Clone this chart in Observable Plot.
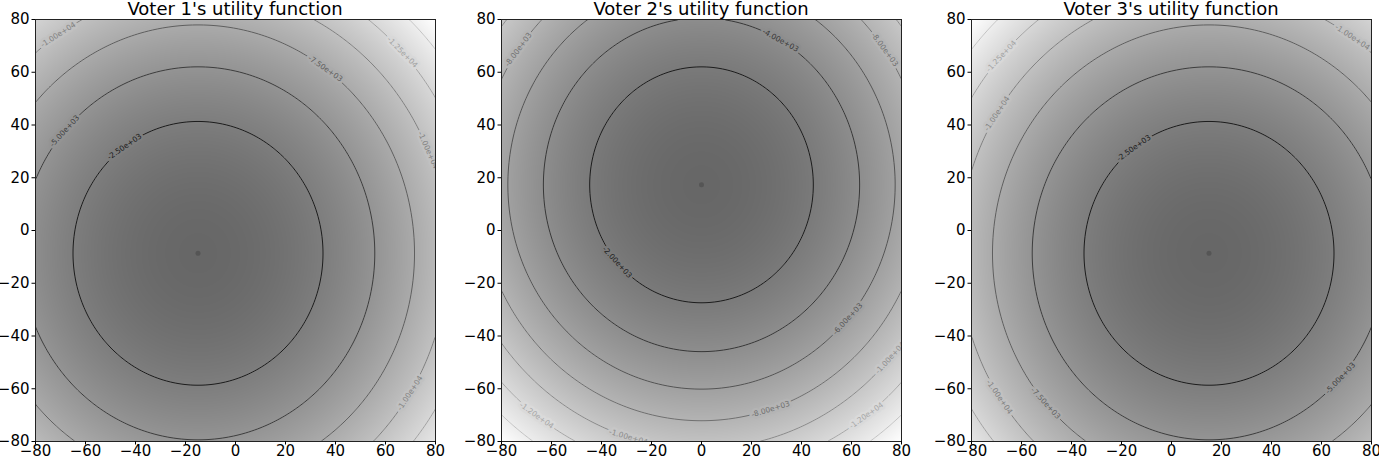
<!DOCTYPE html>
<html>
<head>
<meta charset="utf-8">
<script src="https://cdn.jsdelivr.net/npm/d3@7"></script>
<script src="https://cdn.jsdelivr.net/npm/@observablehq/plot@0.6"></script>
<style>
  html, body { margin: 0; padding: 0; background: #fff; overflow: hidden; }
  #fig { position: relative; width: 1379px; height: 459px; font-family: "DejaVu Sans", sans-serif; overflow: visible; }
  .panel { position: absolute; top: 0; }
  .panel svg { max-width: none !important; display: block; }
  .title { position: absolute; top: 0px; font-size: 18px; line-height: 18px; white-space: nowrap; transform: translateX(-50%); color: #000; }
</style>
</head>
<body>
<div id="fig"></div>
<script>
// ---- data ----
const titles = ["Voter 1's utility function", "Voter 2's utility function", "Voter 3's utility function"];
const idealX = [-15, 0, 15];
const idealY = [-8.66, 17.32, -8.66];
const ticks = [-80, -60, -40, -20, 0, 20, 40, 60, 80];
const levels1 = [-2500, -5000, -7500, -10000, -12500, -15000];
const levels2 = [-2000, -4000, -6000, -8000, -10000, -12000, -14000];
const levels3 = [-2500, -5000, -7500, -10000, -12500, -15000];
const levelSets = [levels1, levels2, levels3];
// contour label placements: level and angle (degrees) around the ideal point
const labelLevels1 = [-2500, -5000, -7500, -10000, -10000, -10000, -12500];
const labelAngles1 = [126, 139, 54, 124, 23, -32, 43];
const labelText1 = ["-2.50e+03", "-5.00e+03", "-7.50e+03", "-1.00e+04", "-1.00e+04", "-1.00e+04", "-1.25e+04"];
const labelLevels2 = [-2000, -4000, -6000, -8000, -8000, -8000, -10000, -10000, -12000, -12000];
const labelAngles2 = [-139, 60, -41, 145, 35, -72, -107, -41, -127, -53];
const labelText2 = ["-2.00e+03", "-4.00e+03", "-6.00e+03", "-8.00e+03", "-8.00e+03", "-8.00e+03", "-1.00e+04", "-1.00e+04", "-1.20e+04", "-1.20e+04"];
const labelLevels3 = [-2500, -5000, -7500, -10000, -10000, -10000, -12500];
const labelAngles3 = [127, -42, -139, 148, 55, -147, 138];
const labelText3 = ["-2.50e+03", "-5.00e+03", "-7.50e+03", "-1.00e+04", "-1.00e+04", "-1.00e+04", "-1.25e+04"];
const labelSets = [
  [labelLevels1, labelAngles1, labelText1],
  [labelLevels2, labelAngles2, labelText2],
  [labelLevels3, labelAngles3, labelText3]
];

// ---- layout ----
const plotW = 400, plotH = 422;
const mL = 35, mT = 19, mB = 18, mR = 15;
const panelLeft = [0, 466, 936];
const kx = plotW / 160, ky = plotH / 160;

const fmt = d => d < 0 ? "\u2212" + (-d) : String(d);
const bgDark = "#676767";

const fig = document.getElementById("fig");

for (let i = 0; i < 3; i++) {
  const cx = idealX[i], cy = idealY[i];
  const u = (x, y) => -((x - cx) ** 2 + (y - cy) ** 2);
  const corners = [[-80, -80], [-80, 80], [80, -80], [80, 80]];
  const umin = d3.min(corners, ([x, y]) => u(x, y));
  const bg = d3.scaleLinear().domain([umin, 0]).range(["#ffffff", bgDark]).interpolate(d3.interpolateRgb);
  const levels = levelSets[i];
  const n = levels.length;
  const lineColor = k => { const g = Math.round(28 + k * (195 - 28) / (n - 1)); return `rgb(${g},${g},${g})`; };

  const contourMarks = levels.map((lv, k) => Plot.contour({
    value: u, x1: -80, x2: 80, y1: -80, y2: 80, pixelSize: 1,
    thresholds: [lv], fill: "none", stroke: lineColor(k), strokeWidth: 1
  }));

  const [lLev, lAng, lTxt] = labelSets[i];
  const labelMarks = lLev.map((lv, j) => {
    const r = Math.sqrt(-lv);
    const th = lAng[j] * Math.PI / 180;
    const lx = cx + r * Math.cos(th), ly = cy + r * Math.sin(th);
    let rot = Math.atan2(Math.cos(th) * kx, Math.sin(th) * ky) * 180 / Math.PI;
    if (rot > 90) rot -= 180;
    if (rot <= -90) rot += 180;
    const k = levels.indexOf(lv);
    return Plot.text([{x: lx, y: ly, t: lTxt[j]}], {
      x: "x", y: "y", text: "t", rotate: rot, clip: true,
      fontSize: 7.5, fontFamily: "DejaVu Sans",
      fill: lineColor(k), stroke: bg(u(lx, ly)), strokeWidth: 5
    });
  });

  const chart = Plot.plot({
    width: mL + plotW + mR,
    height: mT + plotH + mB,
    marginLeft: mL, marginTop: mT, marginBottom: mB, marginRight: mR,
    x: {domain: [-80, 80], label: null},
    y: {domain: [-80, 80], label: null},
    color: {type: "linear", domain: [umin, 0], range: ["#ffffff", bgDark], interpolate: "rgb"},
    style: {fontFamily: "DejaVu Sans", fontSize: "15px", color: "#000", background: "transparent", overflow: "visible", maxWidth: "none"},
    marks: [
      Plot.raster({fill: u, x1: -80, x2: 80, y1: -80, y2: 80, pixelSize: 1}),
      ...contourMarks,
      ...labelMarks,
      Plot.dot([0], {x: () => idealX[i], y: () => idealY[i], r: 2.5, fill: "#555", stroke: "none"}),
      Plot.frame({stroke: "#222", strokeWidth: 1}),
      Plot.axisX({ticks, tickFormat: fmt, tickSize: 3.5, tickPadding: 0, label: null, fontSize: 15, stroke: "#000"}),
      Plot.axisY({ticks, tickFormat: fmt, tickSize: 3.5, tickPadding: 2.5, label: null, fontSize: 15, stroke: "#000"})
    ]
  });

  const div = document.createElement("div");
  div.className = "panel";
  div.style.left = panelLeft[i] + "px";
  div.style.width = (mL + plotW + mR) + "px";
  div.appendChild(chart);
  fig.appendChild(div);

  const t = document.createElement("div");
  t.className = "title";
  t.style.left = (panelLeft[i] + mL + plotW / 2) + "px";
  t.textContent = titles[i];
  fig.appendChild(t);
}
</script>
</body>
</html>
